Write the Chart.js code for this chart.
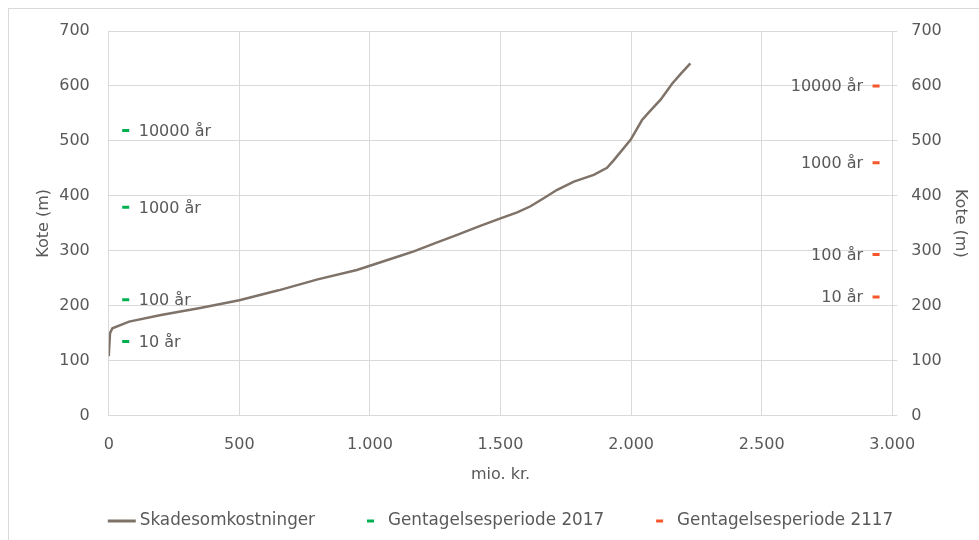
<!DOCTYPE html>
<html>
<head>
<meta charset="utf-8">
<script src="https://cdn.jsdelivr.net/npm/chart.js@4"></script>
<style>
  html, body { margin: 0; padding: 0; background: #fff; }
  #wrap { width: 979px; height: 540px; position: relative; }
</style>
</head>
<body>
<div id="wrap"><canvas id="skadeChart" width="979" height="540"></canvas></div>
<script>
  // Skadesomkostninger (mio. kr.) mod kote (m)
  const costX = [0, 5, 14, 78, 200, 350, 500, 650, 800, 950, 1041, 1117, 1168, 1250, 1334, 1420, 1500, 1564, 1615, 1670, 1717, 1781, 1857, 1908, 1934, 1998, 2042, 2074, 2113, 2157, 2190, 2227];
  const koteY = [108, 150, 159, 171, 183, 196, 210, 228, 248, 265, 279, 291, 299, 314, 329, 345, 359, 370, 381, 397, 411, 426, 438, 451, 465, 502, 538, 555, 575, 604, 622, 641];

  // Gentagelsesperioder
  const periodLabels = ['10 år', '100 år', '1000 år', '10000 år'];
  const kote2017 = [135, 211, 379, 519];
  const kote2117 = [216, 293, 460, 600];
  const x2017 = 65;
  const x2117 = 2938;

  const xTicks = [0, 500, 1000, 1500, 2000, 2500, 3000];
  const yTicks = [0, 100, 200, 300, 400, 500, 600, 700];

  const FONT = 'DejaVu Sans';
  const TXT = '#595959';
  const GRID = '#d9d9d9';
  const LINE_COL = '#7f7369';
  const GREEN = '#00b050';
  const ORANGE = '#f4572a';

  const fmt = v => v.toLocaleString('da-DK');

  // labels next to the return period markers
  const markerLabels = {
    id: 'markerLabels',
    afterDatasetsDraw(chart) {
      const ctx = chart.ctx;
      ctx.save();
      ctx.font = '16px "' + FONT + '"';
      ctx.fillStyle = TXT;
      ctx.textBaseline = 'middle';
      [1, 2].forEach(i => {
        const meta = chart.getDatasetMeta(i);
        const right = i === 1;
        ctx.textAlign = right ? 'left' : 'right';
        meta.data.forEach((pt, j) => {
          ctx.fillText(periodLabels[j], right ? pt.x + 13 : pt.x - 13, pt.y + 1);
        });
      });
      ctx.restore();
    }
  };

  // legend at the bottom, drawn by hand so the samples can differ in width
  const bottomLegend = {
    id: 'bottomLegend',
    afterDraw(chart) {
      const ctx = chart.ctx;
      const ds = chart.data.datasets;
      ctx.save();
      ctx.font = '16.8px "' + FONT + '"';
      const items = ds.map((d, i) => {
        const sw = i === 0 ? 28 : 7;
        return { d, sw, w: sw + (i === 0 ? 4 : 14) + ctx.measureText(d.label).width };
      });
      const gap = 52;
      const total = items.reduce((s, it) => s + it.w, 0) + gap * (items.length - 1);
      const ca = chart.chartArea;
      let x = (ca.left + ca.right) / 2 - total / 2;
      const y = 521;
      items.forEach((it, i) => {
        ctx.strokeStyle = i === 0 ? it.d.borderColor : it.d.pointBorderColor;
        ctx.lineWidth = 3;
        ctx.beginPath();
        ctx.moveTo(x, y);
        ctx.lineTo(x + it.sw, y);
        ctx.stroke();
        ctx.fillStyle = TXT;
        ctx.textBaseline = 'middle';
        ctx.textAlign = 'left';
        ctx.fillText(it.d.label, x + it.sw + (i === 0 ? 4 : 14), y);
        x += it.w + gap;
      });
      ctx.restore();
    }
  };

  const frame = {
    id: 'frame',
    beforeDraw(chart) {
      const ctx = chart.ctx;
      ctx.save();
      ctx.fillStyle = '#fff';
      ctx.fillRect(0, 0, chart.width, chart.height);
      ctx.strokeStyle = GRID;
      ctx.lineWidth = 1;
      ctx.strokeRect(8.5, 8.5, chart.width, chart.height);
      ctx.restore();
    }
  };

  const tickFont = { family: FONT, size: 16 };

  new Chart(document.getElementById('skadeChart'), {
    type: 'scatter',
    data: {
      datasets: [{
        label: 'Skadesomkostninger',
        type: 'line',
        data: costX.map((x, i) => ({ x, y: koteY[i] })),
        borderColor: LINE_COL,
        borderWidth: 2.5,
        pointRadius: 0,
        tension: 0,
        yAxisID: 'y'
      }, {
        label: 'Gentagelsesperiode 2017',
        data: kote2017.map(y => ({ x: x2017, y })),
        pointStyle: 'line',
        pointRadius: 3.5,
        pointBorderWidth: 3,
        pointBorderColor: GREEN,
        borderColor: GREEN,
        yAxisID: 'y'
      }, {
        label: 'Gentagelsesperiode 2117',
        data: kote2117.map(y => ({ x: x2117, y })),
        pointStyle: 'line',
        pointRadius: 3.5,
        pointBorderWidth: 3,
        pointBorderColor: ORANGE,
        borderColor: ORANGE,
        yAxisID: 'y2'
      }]
    },
    options: {
      responsive: false,
      animation: false,
      devicePixelRatio: 1,
      layout: { padding: { top: 31, left: 30, right: 5, bottom: 52 } },
      plugins: {
        legend: { display: false },
        tooltip: { enabled: false }
      },
      scales: {
        x: {
          type: 'linear',
          min: 0, max: 3000,
          afterBuildTicks: axis => { axis.ticks = xTicks.map(v => ({ value: v })); },
          ticks: { font: tickFont, color: TXT, padding: 20, callback: v => fmt(v), maxRotation: 0 },
          grid: { color: GRID, drawTicks: false },
          border: { color: GRID },
          title: { display: true, text: 'mio. kr.', font: tickFont, color: TXT, padding: { top: -10, bottom: 4 } }
        },
        y: {
          position: 'left',
          min: 0, max: 700,
          afterBuildTicks: axis => { axis.ticks = yTicks.map(v => ({ value: v })); },
          ticks: { font: tickFont, color: TXT, padding: 19 },
          grid: { color: GRID, drawTicks: false },
          border: { color: GRID },
          title: { display: true, text: 'Kote (m)', font: tickFont, color: TXT, padding: { top: 4, bottom: -13 } }
        },
        y2: {
          position: 'right',
          min: 0, max: 700,
          afterBuildTicks: axis => { axis.ticks = yTicks.map(v => ({ value: v })); },
          ticks: { font: tickFont, color: TXT, padding: 14 },
          grid: { drawOnChartArea: false, color: GRID, tickLength: 5 },
          border: { display: true, color: GRID },
          title: { display: true, text: 'Kote (m)', font: tickFont, color: TXT, padding: { top: 4, bottom: -5 } }
        }
      }
    },
    plugins: [frame, markerLabels, bottomLegend]
  });
</script>
</body>
</html>
